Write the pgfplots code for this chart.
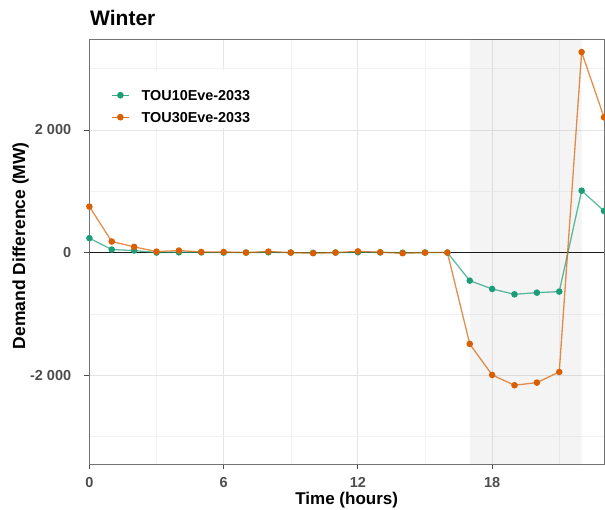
\documentclass[border=0pt]{standalone}
\usepackage{pgfplots}
\pgfplotsset{compat=1.18}
\usepackage{fontspec}
\setmainfont{Liberation Sans}
\definecolor{cgreen}{HTML}{1B9E77}
\definecolor{corange}{HTML}{D95F02}
\definecolor{tickgray}{HTML}{4D4D4D}
\pgfplotstableread{
h tou10 tou30
0 235 750
1 49 180
2 33 93
3 0 16
4 5 33
5 3 10
6 0 10
7 0 0
8 5 16
9 0 0
10 -5 -10
11 0 0
12 5 20
13 3 5
14 -3 -10
15 0 0
16 0 0
17 -458 -1491
18 -594 -1997
19 -681 -2165
20 -654 -2122
21 -637 -1948
22 1010 3272
23 679 2207
}\datatable
\begin{document}
\begin{tikzpicture}
\useasboundingbox (0,0) rectangle (605pt,509pt);
\node[anchor=base west, font=\bfseries\fontsize{21}{24}\selectfont, inner sep=0pt] at (90pt,483pt) {Winter};
\begin{axis}[
  at={(89.4pt,45pt)}, anchor=south west,
  scale only axis, width=514.6pt, height=424.7pt,
  xmin=0, xmax=23, ymin=-3450, ymax=3480,
  xtick={0,6,12,18}, xticklabels={0,6,12,18}, minor xtick={3,9,15,21},
  ytick={-2000,0,2000}, yticklabels={-2 000,0,2 000},
  minor ytick={-3000,-1000,1000,3000},
  /pgf/number format/assume math mode=true,
  grid=both,
  major grid style={black!10, line width=0.9pt},
  minor grid style={black!5, line width=0.5pt},
  axis line style={black!55, line width=0.8pt},
  tick pos=left, tick align=outside,
  major tick length=5pt, minor tick length=0pt,
  tick style={black!70, line width=0.8pt},
  xticklabel style={anchor=north, yshift=-8.3pt, inner sep=0pt, font=\bfseries\fontsize{14.5}{16}\selectfont, text=tickgray},
  yticklabel style={anchor=east, xshift=-13pt, inner sep=0pt, font=\bfseries\fontsize{14.5}{16}\selectfont, text=tickgray},
  ylabel={Demand Difference (MW)},
  ylabel style={at={(axis description cs:-0.1339,0.514)}, anchor=center, inner sep=0pt, font=\bfseries\fontsize{17.5}{20}\selectfont},
  legend style={at={(axis description cs:0.042,0.8812)}, anchor=north west, draw=none, fill=none, inner sep=0pt, row sep=11.5pt, column sep=12pt, font=\bfseries\fontsize{14.4}{16}\selectfont, nodes={inner sep=0pt, text height=10.5pt, text depth=0pt}},
  legend cell align=left,
  legend image code/.code={\draw[mark repeat=2,mark phase=2, line width=1.4pt, draw opacity=0.85] plot coordinates {(0pt,0pt)(8.5pt,0pt)(17pt,0pt)};},
]
\fill[white] (axis description cs:0.0206,0.7911) rectangle (axis description cs:0.3276,0.9277);
\addplot[draw=none, fill=black, fill opacity=0.045, forget plot] coordinates {(17,-3450) (22,-3450) (22,3480) (17,3480)} \closedcycle;
\addplot[black!90, line width=1pt, forget plot] coordinates {(0,0) (23,0)};
\addplot[color=cgreen, draw opacity=0.7, line width=1.3pt, mark=*, mark size=2.6pt, mark options={draw opacity=1, fill opacity=1}] table[x=h, y=tou10] {\datatable};
\addlegendentry{TOU10Eve-2033}
\addplot[color=corange, draw opacity=0.7, line width=1.3pt, mark=*, mark size=2.6pt, mark options={draw opacity=1, fill opacity=1}] table[x=h, y=tou30] {\datatable};
\addlegendentry{TOU30Eve-2033}
\end{axis}
\node[anchor=base, inner sep=0pt, font=\bfseries\fontsize{17}{20}\selectfont] at (346.7pt,4.3pt) {Time (hours)};
\end{tikzpicture}
\end{document}
